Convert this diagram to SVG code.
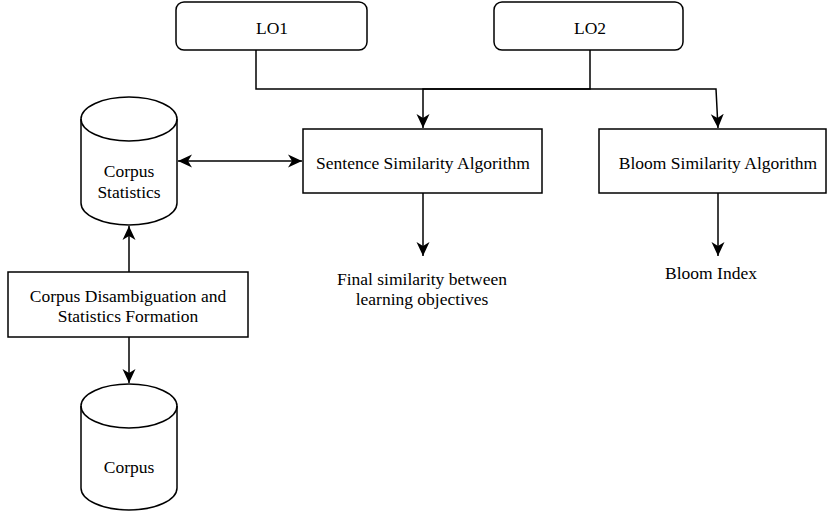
<svg xmlns="http://www.w3.org/2000/svg" width="827" height="512" viewBox="0 0 827 512">
<defs>
<style>
.shape{fill:#ffffff;stroke:#000000;stroke-width:1.5}
.edge{fill:none;stroke:#000000;stroke-width:1.5}
.t{font-family:"Liberation Serif","Times New Roman","DejaVu Serif",serif;font-size:17.5px;fill:#000000;text-anchor:middle}
</style>
<marker id="arr" markerUnits="userSpaceOnUse" markerWidth="16" markerHeight="14" refX="14" refY="7" orient="auto-start-reverse" viewBox="0 0 16 14">
<path d="M0,0.5 L14,7 L0,13.5 L4,7 Z" fill="#000000"/>
</marker>
</defs>
<rect width="827" height="512" fill="#ffffff"/>
<g id="connectors">
<path class="edge" d="M256,50 V89 H716 L718,128" marker-end="url(#arr)"/>
<path class="edge" d="M590,50 V89 H423 V128" marker-end="url(#arr)"/>
<path class="edge" d="M178,161 H302" marker-start="url(#arr)" marker-end="url(#arr)"/>
<path class="edge" d="M423,193 V256" marker-end="url(#arr)"/>
<path class="edge" d="M718,193 V256" marker-end="url(#arr)"/>
<path class="edge" d="M129,272 V226" marker-end="url(#arr)"/>
<path class="edge" d="M129,337 V383" marker-end="url(#arr)"/>
</g>
<g id="lo1">
<rect class="shape" x="176" y="2" width="191" height="48" rx="8"/>
<text class="t" x="272" y="34">LO1</text>
</g>
<g id="lo2">
<rect class="shape" x="494" y="2" width="189" height="48" rx="8"/>
<text class="t" x="590" y="34">LO2</text>
</g>
<g id="sentence">
<rect class="shape" x="303" y="129" width="239" height="64"/>
<text class="t" x="423" y="169">Sentence Similarity Algorithm</text>
</g>
<g id="bloom">
<rect class="shape" x="599" y="129" width="227" height="64"/>
<text class="t" x="718" y="169">Bloom Similarity Algorithm</text>
</g>
<g id="final">
<text class="t" x="422" y="285">Final similarity between</text>
<text class="t" x="422" y="305">learning objectives</text>
</g>
<g id="bloom-index">
<text class="t" x="711" y="279">Bloom Index</text>
</g>
<g id="corpus-statistics">
<path class="shape" d="M81,119 A48,22 0 0 1 177,119 V203 A48,22 0 0 1 81,203 Z"/>
<path class="edge" d="M81,119 A48,22 0 0 0 177,119"/>
<text class="t" x="129" y="177">Corpus</text>
<text class="t" x="129" y="198">Statistics</text>
</g>
<g id="disambiguation">
<rect class="shape" x="8" y="272" width="240" height="65"/>
<text class="t" x="128" y="302">Corpus Disambiguation and</text>
<text class="t" x="128" y="322">Statistics Formation</text>
</g>
<g id="corpus">
<path class="shape" d="M81,406 A48,22 0 0 1 177,406 V488 A48,22 0 0 1 81,488 Z"/>
<path class="edge" d="M81,406 A48,22 0 0 0 177,406"/>
<text class="t" x="129" y="473">Corpus</text>
</g>
</svg>
